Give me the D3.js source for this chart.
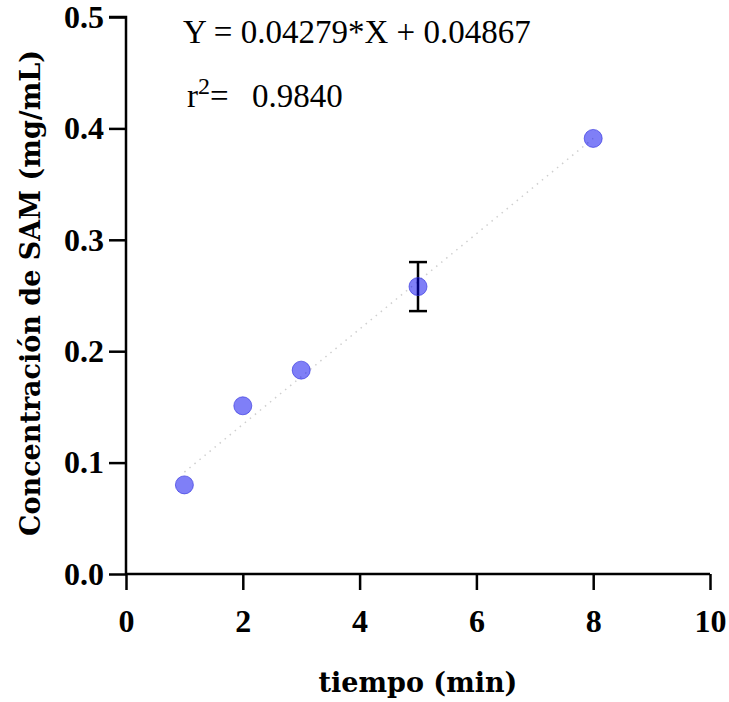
<!DOCTYPE html>
<html><head><meta charset="utf-8">
<script src="https://cdn.jsdelivr.net/npm/d3@7"></script>
<style>body{margin:0;background:#fff}svg{display:block}</style>
</head><body>
<script>
const timeMin = [1, 2, 3, 5, 8];
const samConc = [0.080, 0.151, 0.183, 0.258, 0.391];
const samErr = [0, 0, 0, 0.022, 0];
const slope = 0.04279, intercept = 0.04867;
const xTicks = [0, 2, 4, 6, 8, 10];
const yTicks = [0.0, 0.1, 0.2, 0.3, 0.4, 0.5];
const eqText = "Y = 0.04279*X + 0.04867";
const r2Text = "0.9840";

const W = 729, H = 702;
const font = "'DejaVu Serif', 'Liberation Serif', serif";
const font2 = "'Liberation Serif', 'DejaVu Serif', serif";
const svg = d3.select("body").append("svg").attr("width", W).attr("height", H);
const x = d3.scaleLinear().domain([0, 10]).range([126, 710]);
const y = d3.scaleLinear().domain([0, 0.5]).range([574, 17]);

// regression line
svg.append("line")
  .attr("x1", x(1)).attr("y1", y(slope * 1 + intercept))
  .attr("x2", x(8)).attr("y2", y(slope * 8 + intercept))
  .attr("stroke", "#cfcfcf").attr("stroke-width", 1.5).attr("stroke-dasharray", "1.5,5");

const xAxis = svg.append("g").attr("transform", "translate(0,574)")
  .call(d3.axisBottom(x).tickValues(xTicks).tickSize(16).tickPadding(19).tickFormat(d3.format("d")));
const yAxis = svg.append("g").attr("transform", "translate(126,0)")
  .call(d3.axisLeft(y).tickValues(yTicks).tickSize(17).tickPadding(5).tickFormat(d3.format(".1f")));
[xAxis, yAxis].forEach(g => {
  g.select(".domain").attr("stroke", "#000").attr("stroke-width", 2.5);
  g.selectAll(".tick line").attr("stroke", "#000").attr("stroke-width", 2.5);
  g.selectAll("text").attr("fill", "#000").style("font-family", font2)
    .style("font-weight", "bold").style("font-size", "32px");
});
yAxis.select(".domain").attr("d", `M-17,${y(0.5)}H0V${y(0)}`);
xAxis.select(".domain").attr("d", `M${x(0)},0H${x(10)}`);

// error bars
const eb = svg.append("g");
timeMin.forEach((t, i) => {
  if (samErr[i] > 0) {
    const cx = x(t);
    eb.append("line").attr("x1", cx).attr("x2", cx)
      .attr("y1", y(samConc[i] + samErr[i])).attr("y2", y(samConc[i] - samErr[i]))
      .attr("stroke", "#000").attr("stroke-width", 2.5);
    [samConc[i] + samErr[i], samConc[i] - samErr[i]].forEach(v => {
      eb.append("line").attr("x1", cx - 9).attr("x2", cx + 9)
        .attr("y1", y(v)).attr("y2", y(v)).attr("stroke", "#000").attr("stroke-width", 2.5);
    });
  }
});

// points
svg.append("g").selectAll("circle").data(timeMin).join("circle")
  .attr("cx", d => x(d)).attr("cy", (d, i) => y(samConc[i])).attr("r", 9)
  .attr("fill", "rgba(0,0,240,0.5)").attr("stroke", "rgba(40,40,220,0.6)").attr("stroke-width", 1);

// axis titles
svg.append("text").attr("x", 418).attr("y", 692).attr("text-anchor", "middle")
  .style("font-family", font).style("font-weight", "bold").style("font-size", "27px")
  .text("tiempo (min)");
svg.append("text").attr("transform", "translate(40,293) rotate(-90)").attr("text-anchor", "middle")
  .style("font-family", font).style("font-weight", "bold").style("font-size", "27px")
  .text("Concentración de SAM (mg/mL)");

// equation
svg.append("text").attr("x", 183).attr("y", 43)
  .style("font-family", font2).style("font-size", "33px").text(eqText);
const r2 = svg.append("text").attr("x", 187).attr("y", 107)
  .style("font-family", font2).style("font-size", "33px");
r2.append("tspan").text("r");
r2.append("tspan").attr("dy", -13).style("font-size", "24px").text("2");
r2.append("tspan").attr("dy", 13).text("=");
svg.append("text").attr("x", 252).attr("y", 107)
  .style("font-family", font2).style("font-size", "33px").text(r2Text);
</script>
</body></html>
